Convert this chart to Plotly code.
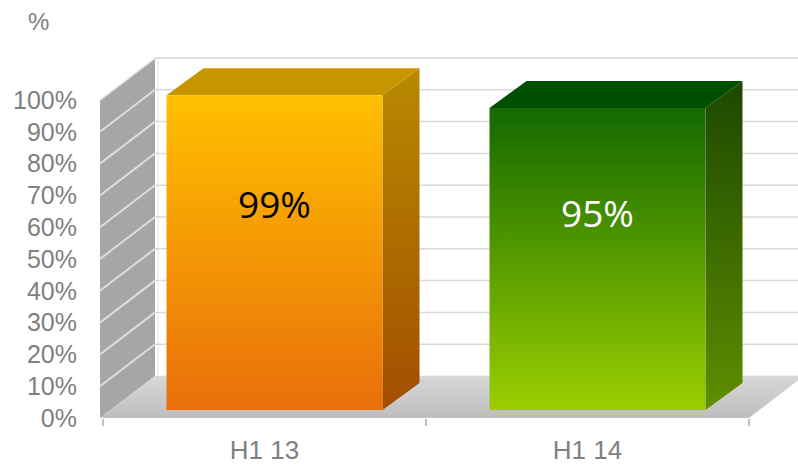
import plotly.graph_objects as go

# ---- data ----
categories = ["H1 13", "H1 14"]
values = [99, 95]
value_labels = ["99%", "95%"]
y_ticks = [0, 10, 20, 30, 40, 50, 60, 70, 80, 90, 100]
y_tick_labels = ["0%", "10%", "20%", "30%", "40%", "50%", "60%", "70%", "80%", "90%", "100%"]
axis_title = "%"

# ---- styles ----
front_grad = [["#E96F0A", "#FFC000"], ["#9BCE00", "#136800"]]   # bottom -> top
top_col = ["#C69500", "#004F00"]
side_grad = [["#A24E00", "#B88A00"], ["#5E8E00", "#1C4800"]]
label_col = ["#000000", "#FFFFFF"]

W, H = 798, 464
ML, MR, MT, MB = 100, 0, 40, 46
PX = 323.0   # pixels per category unit
PY = 3.18    # pixels per percent
x0 = -0.5 - 3 / PX
x1 = x0 + (W - ML - MR) / PX
ytop = (H - MT - MB) / PY

DX, DY = 55 / PX, 42 / PY          # wall depth
FX, FY = 10 / PX, 8 / PY           # bar front offset
BX, BY = 37 / PX, 27 / PY          # bar depth
HW = 108 / PX                      # half bar width

fig = go.Figure()

def poly(xs, ys, color=None, grad=None, gstart=None, gstop=None, line=None):
    kw = dict(x=xs + [xs[0]], y=ys + [ys[0]], mode="lines", fill="toself",
              hoverinfo="skip", showlegend=False,
              line=dict(width=0, color="rgba(0,0,0,0)") if line is None else line)
    if grad is not None:
        kw["fillgradient"] = dict(type="vertical", colorscale=[[0, grad[0]], [1, grad[1]]],
                                  start=gstart, stop=gstop)
        kw["fillcolor"] = grad[1]
    else:
        kw["fillcolor"] = color
    fig.add_trace(go.Scatter(**kw))

n = len(categories)
xl_front, xr_front = -0.5, n - 0.5
ymax = y_ticks[-1]

# back wall
poly([xl_front + DX, xr_front + DX + 1, xr_front + DX + 1, xl_front + DX],
     [DY, DY, ymax + DY, ymax + DY], color="#FFFFFF",
     line=dict(width=1, color="#E6E6E6"))
# left wall
poly([x0, x0 + DX, x0 + DX, x0], [0, DY, ymax + DY, ymax], color="#A6A6A6")
# floor
poly([x0, xr_front, xr_front + DX, x0 + DX], [0, 0, DY, DY],
     grad=["#BEBEBE", "#D8D8D8"], gstart=0, gstop=DY)

# gridlines
gx, gy, wx, wy = [], [], [], []
for t in y_ticks[1:]:
    gx += [x0 + DX, xr_front + DX + 1, None]
    gy += [t + DY, t + DY, None]
    wx += [x0, x0 + DX, None]
    wy += [t, t + DY, None]
fig.add_trace(go.Scatter(x=gx, y=gy, mode="lines", line=dict(color="#D9D9D9", width=1.5),
                         hoverinfo="skip", showlegend=False))
fig.add_trace(go.Scatter(x=wx, y=wy, mode="lines", line=dict(color="rgba(235,235,235,0.8)", width=2),
                         hoverinfo="skip", showlegend=False))

# axis line along the front edge
fig.add_trace(go.Scatter(x=[xl_front, xr_front], y=[0, 0], mode="lines",
                         line=dict(color="#C0C0C0", width=1.5),
                         hoverinfo="skip", showlegend=False))

# bars
for i, v in enumerate(values):
    xl = i + FX - HW
    xr = i + FX + HW
    yb = FY
    yt = v + FY
    # right side
    poly([xr, xr + BX, xr + BX, xr], [yb, yb + BY, yt + BY, yt],
         grad=side_grad[i], gstart=yb, gstop=yt + BY)
    # top face
    poly([xl, xr, xr + BX, xl + BX], [yt, yt, yt + BY, yt + BY], color=top_col[i])
    # front face
    poly([xl, xr, xr, xl], [yb, yb, yt, yt], grad=front_grad[i], gstart=yb, gstop=yt)
    fig.add_annotation(x=i + FX, y=yb + 0.655 * v, text=value_labels[i], showarrow=False,
                       font=dict(family="Open Sans", size=37, color=label_col[i]))

fig.add_annotation(xref="paper", yref="paper", x=(39 - ML) / (W - ML - MR),
                   y=(H - MB - 21) / (H - MT - MB), text=axis_title, showarrow=False,
                   xanchor="center", yanchor="middle",
                   font=dict(family="Liberation Sans, Arial", size=24, color="#808080"))

fig.update_layout(
    width=W, height=H,
    margin=dict(l=ML, r=MR, t=MT, b=MB),
    paper_bgcolor="#FFFFFF", plot_bgcolor="#FFFFFF",
    font=dict(family="Liberation Sans, Arial", color="#808080"),
    xaxis=dict(range=[x0, x1], showgrid=False, zeroline=False, showline=False,
               tickmode="array", tickvals=list(range(n)), ticktext=categories,
               ticks="", tickfont=dict(size=26, color="#808080"), ticklabelstandoff=14,
               minor=dict(tickmode="array", tickvals=[k - 0.5 for k in range(n + 1)],
                          ticks="outside", ticklen=7, tickcolor="#C0C0C0", tickwidth=1.5,
                          showgrid=False)),
    yaxis=dict(range=[0, ytop], showgrid=False, zeroline=False, showline=False,
               tickmode="array", tickvals=y_ticks, ticktext=y_tick_labels,
               ticks="", tickfont=dict(size=25, color="#808080"), ticklabelstandoff=22),
)

fig.write_html("out.html")
